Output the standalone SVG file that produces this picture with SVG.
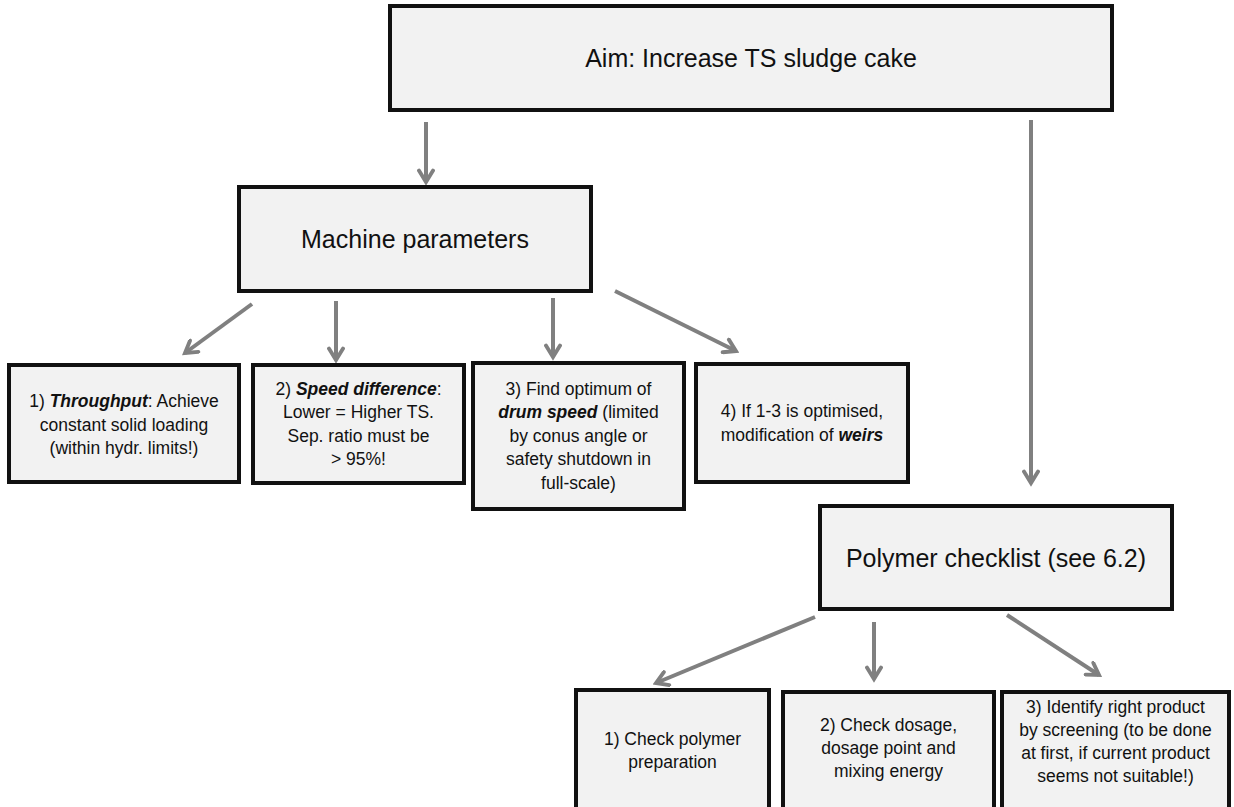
<svg xmlns="http://www.w3.org/2000/svg" width="1234" height="807" viewBox="0 0 1234 807">
<style>
.box{fill:#f2f2f2;stroke:#111;stroke-width:4}
.t{font-family:"Liberation Sans",Arial,sans-serif;fill:#111;text-anchor:middle}
.big{font-size:25px}
.sm{font-size:17.5px}
.bi{font-weight:bold;font-style:italic}
.c{stroke:#808080;stroke-width:4;fill:none}
</style>
<defs>
<marker id="ah" viewBox="0 0 10 10" refX="8" refY="5" markerWidth="4.4" markerHeight="4.4" markerUnits="strokeWidth" orient="auto">
<polyline points="1.5,1 8,5 1.5,9" fill="none" stroke="#808080" stroke-width="2.2" stroke-linecap="round" stroke-linejoin="miter"/>
</marker>
</defs>
<rect width="1234" height="807" fill="#fff"/>
<g id="connectors">
<line class="c" x1="426" y1="122" x2="426" y2="182" marker-end="url(#ah)"/>
<line class="c" x1="1031" y1="120" x2="1031" y2="483" marker-end="url(#ah)"/>
<line class="c" x1="252" y1="304" x2="185" y2="353" marker-end="url(#ah)"/>
<line class="c" x1="336" y1="301" x2="336" y2="360" marker-end="url(#ah)"/>
<line class="c" x1="553" y1="298" x2="553" y2="357" marker-end="url(#ah)"/>
<line class="c" x1="615" y1="291" x2="736" y2="351" marker-end="url(#ah)"/>
<line class="c" x1="815" y1="617" x2="656" y2="683" marker-end="url(#ah)"/>
<line class="c" x1="874" y1="622" x2="874" y2="679" marker-end="url(#ah)"/>
<line class="c" x1="1007" y1="615" x2="1099" y2="675" marker-end="url(#ah)"/>
</g>
<g id="aim">
<rect class="box" x="390" y="6" width="722" height="104"/>
<text class="t big" x="751" y="67">Aim: Increase TS sludge cake</text>
</g>
<g id="machine">
<rect class="box" x="239" y="187" width="352" height="104"/>
<text class="t big" x="415" y="248">Machine parameters</text>
</g>
<g id="m1">
<rect class="box" x="9" y="365" width="230" height="117"/>
<text class="t sm" x="124" y="407">1) <tspan class="bi">Throughput</tspan>: Achieve</text>
<text class="t sm" x="124" y="431">constant solid loading</text>
<text class="t sm" x="124" y="454">(within hydr. limits!)</text>
</g>
<g id="m2">
<rect class="box" x="253" y="365" width="211" height="118"/>
<text class="t sm" x="358.5" y="395">2) <tspan class="bi">Speed difference</tspan>:</text>
<text class="t sm" x="358.5" y="418">Lower = Higher TS.</text>
<text class="t sm" x="358.5" y="442">Sep. ratio must be</text>
<text class="t sm" x="358.5" y="465">&gt; 95%!</text>
</g>
<g id="m3">
<rect class="box" x="473" y="363" width="211" height="146"/>
<text class="t sm" x="578.5" y="395">3) Find optimum of</text>
<text class="t sm" x="578.5" y="418"><tspan class="bi">drum speed</tspan> (limited</text>
<text class="t sm" x="578.5" y="442">by conus angle or</text>
<text class="t sm" x="578.5" y="465">safety shutdown in</text>
<text class="t sm" x="578.5" y="489">full-scale)</text>
</g>
<g id="m4">
<rect class="box" x="696" y="364" width="212" height="118"/>
<text class="t sm" x="802" y="417">4) If 1-3 is optimised,</text>
<text class="t sm" x="802" y="441">modification of <tspan class="bi">weirs</tspan></text>
</g>
<g id="polymer">
<rect class="box" x="820" y="506" width="352" height="103"/>
<text class="t big" x="996" y="567">Polymer checklist (see 6.2)</text>
</g>
<g id="p1">
<rect class="box" x="576" y="690" width="193" height="125"/>
<text class="t sm" x="672.5" y="745">1) Check polymer</text>
<text class="t sm" x="672.5" y="768">preparation</text>
</g>
<g id="p2">
<rect class="box" x="783" y="692" width="211" height="125"/>
<text class="t sm" x="888.5" y="731">2) Check dosage,</text>
<text class="t sm" x="888.5" y="754">dosage point and</text>
<text class="t sm" x="888.5" y="777">mixing energy</text>
</g>
<g id="p3">
<rect class="box" x="1002" y="692" width="227" height="125"/>
<text class="t sm" x="1115.5" y="713">3) Identify right product</text>
<text class="t sm" x="1115.5" y="736">by screening (to be done</text>
<text class="t sm" x="1115.5" y="759">at first, if current product</text>
<text class="t sm" x="1115.5" y="782">seems not suitable!)</text>
</g>
</svg>
